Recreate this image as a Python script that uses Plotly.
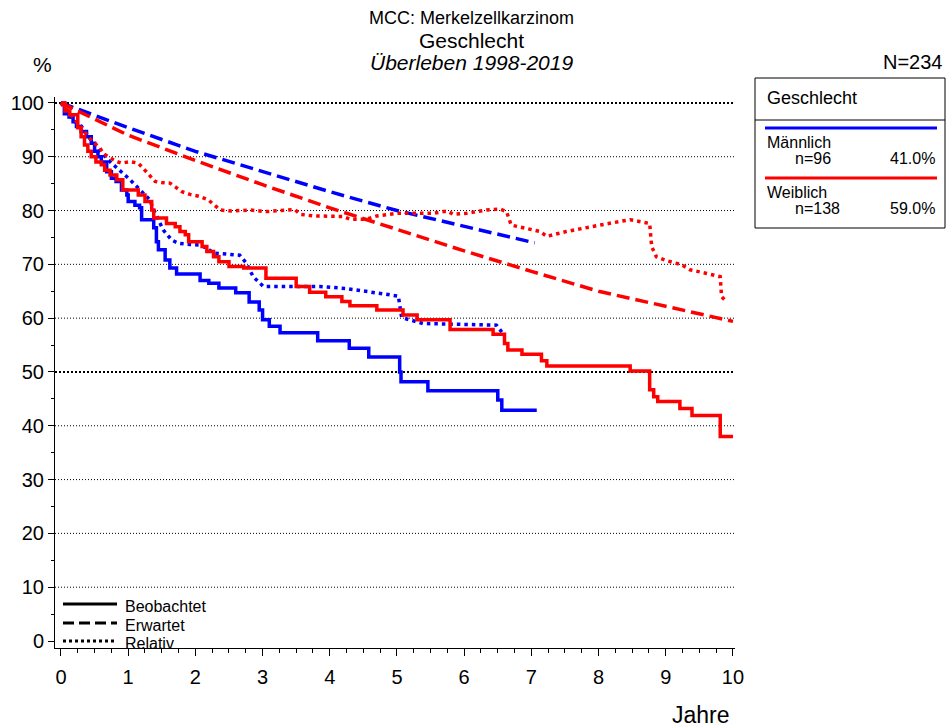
import plotly.graph_objects as go

# observed survival (Kaplan-Meier steps), years / percent
male_obs_t = [0, 0.05, 0.12, 0.18, 0.23, 0.3, 0.38, 0.45, 0.5, 0.55, 0.6, 0.68, 0.75, 0.82, 0.9, 0.98,
              1.0, 1.1, 1.17, 1.2, 1.38, 1.42, 1.45, 1.55, 1.62, 1.72, 2.07, 2.2, 2.35, 2.6, 2.8, 2.95,
              3.0, 3.1, 3.26, 3.82, 4.29, 4.58, 5.04, 5.06, 5.46, 6.5, 6.56, 7.08]
male_obs_s = [100, 98, 97.4, 96.5, 95.6, 94.7, 93.7, 92.5, 91, 90, 89, 87.2, 86, 85.4, 83.8, 82.9,
              81.7, 81, 80.5, 78.3, 76.8, 74.2, 72.7, 70.8, 69.3, 68.2, 67, 66.5, 65.6, 64.7, 63, 61.5,
              59.7, 58.5, 57.3, 55.8, 54.4, 52.8, 50, 48.2, 46.5, 44.8, 42.9, 42.9]

female_obs_t = [0, 0.06, 0.13, 0.25, 0.3, 0.35, 0.4, 0.45, 0.52, 0.6, 0.65, 0.73, 0.83, 0.92, 1.15, 1.25,
                1.35, 1.38, 1.57, 1.7, 1.77, 1.85, 1.9, 2.1, 2.17, 2.27, 2.35, 2.5, 2.72, 3.05, 3.5, 3.7,
                3.94, 4.18, 4.3, 4.7, 5.09, 5.3, 5.79, 6.43, 6.6, 6.65, 6.86, 7.15, 7.23, 8.47, 8.76,
                8.82, 8.88, 9.21, 9.39, 9.81, 10.0]
female_obs_s = [100, 98.5, 97.8, 95.4, 93.7, 92.2, 91, 90, 89, 88.5, 87.5, 86.6, 85.7, 83.8, 82.9, 81.7,
                80.1, 78.6, 77.6, 77, 76.1, 75.5, 74.2, 73.3, 72.4, 71.4, 70.5, 69.6, 69.3, 67.4, 65.9, 64.8,
                64, 63.1, 62.3, 61.5, 60.6, 59.7, 57.9, 57, 55.3, 54.1, 53.3, 52.1, 51.1, 50.2, 46.7,
                45.4, 44.5, 43.2, 41.9, 38, 38]

# expected survival
male_exp_t = [0, 1, 2, 3, 4, 5, 6, 7, 7.05]
male_exp_s = [100, 95.4, 91, 87.2, 83.5, 80, 77, 74.1, 74.0]
female_exp_t = [0, 1, 2, 3, 4, 5, 6, 7, 8, 9, 10]
female_exp_s = [100, 94, 89.3, 84.8, 80.5, 76.5, 72.5, 68.7, 65, 62.2, 59.4]

# relative survival
male_rel_t = [0, 0.18, 0.33, 0.43, 0.53, 0.63, 0.7, 0.78, 0.88, 0.95, 1.03, 1.1, 1.22, 1.32, 1.37, 1.45,
              1.52, 1.65, 1.75, 1.92, 2.07, 2.17, 2.27, 2.47, 2.66, 2.76, 2.86, 3.01, 3.85, 4.25, 4.6,
              5.02, 5.07, 5.39, 6.48, 6.56]
male_rel_s = [100, 96.8, 95.3, 93.4, 91.9, 90.3, 89.4, 88.5, 87.5, 86.6, 85.7, 84.8, 83.2, 82, 80.4, 78.3,
              76.4, 74.5, 73.9, 73.7, 73.6, 73, 72.1, 71.9, 71.7, 70.2, 67.7, 65.9, 65.9, 65.5, 64.9,
              64.1, 60.1, 59, 58.7, 57.4]
female_rel_t = [0, 0.08, 0.23, 0.33, 0.43, 0.53, 0.58, 0.63, 0.7, 0.83, 0.9, 1.03, 1.15, 1.22, 1.32, 1.4,
                1.5, 1.62, 1.7, 1.8, 1.92, 2.07, 2.19, 2.29, 2.37, 2.54, 2.81, 3.06, 3.31, 3.48, 3.56,
                3.75, 4.2, 4.3, 4.55, 4.7, 5.0, 5.54, 5.74, 5.84, 6.04, 6.33, 6.53, 6.63, 6.7, 6.93,
                7.13, 7.23, 7.52, 8.02, 8.47, 8.76, 8.79, 8.86, 9.01, 9.24, 9.36, 9.61, 9.81, 9.83, 9.9]
female_rel_s = [100, 99, 96.5, 95, 93.4, 92.2, 91.6, 90.6, 90, 89.1, 88.8, 89.1, 88.8, 87.9, 86.6, 85.4,
                85.2, 85.1, 84.4, 83.5, 83, 82.6, 82, 81, 80.1, 79.9, 80.1, 79.8, 80.1, 80.2, 79.3,
                79, 78.9, 78.4, 78.4, 79, 79.5, 79.5, 79.9, 79.3, 79.5, 80.1, 80.3, 79.8, 77.3, 76.7,
                76.1, 75.2, 76.1, 77.3, 78.3, 77.6, 73.3, 71.4, 70.7, 69.9, 69, 68.3, 67.7, 64, 63.1]

groups = ["Männlich", "Weiblich"]
counts = [96, 138]
shares = ["41.0%", "59.0%"]
colors = ["#0000ff", "#ff0000"]
y_ticks = list(range(0, 101, 10))
x_ticks = list(range(0, 11))

FONT = "Liberation Sans, Arial, sans-serif"
LW = 3.5
DASH = "13px,6px"
DOT = "3.5px,4px"

fig = go.Figure()
series = [
    (male_obs_t, male_obs_s, male_exp_t, male_exp_s, male_rel_t, male_rel_s),
    (female_obs_t, female_obs_s, female_exp_t, female_exp_s, female_rel_t, female_rel_s),
]
for (ot, os_, et, es, rt, rs), name, col in zip(series, groups, colors):
    fig.add_trace(go.Scatter(x=rt, y=rs, mode="lines", line=dict(color=col, width=LW, dash=DOT),
                             showlegend=False, name=name + " relativ"))
    fig.add_trace(go.Scatter(x=et, y=es, mode="lines", line=dict(color=col, width=LW, dash=DASH),
                             showlegend=False, name=name + " erwartet"))
    fig.add_trace(go.Scatter(x=ot, y=os_, mode="lines", line=dict(color=col, width=LW, shape="hv"),
                             showlegend=False, name=name))

# dotted horizontal grid, heavier at 50 and 100
for v in y_ticks[1:]:
    heavy = v in (50, 100)
    fig.add_shape(type="line", xref="paper", yref="y", x0=0, x1=1, y0=v, y1=v, layer="below",
                  line=dict(color="black", width=2 if heavy else 1, dash="2px,2px" if heavy else "1px,2px"))

# paper coordinates from pixel positions (plot area: x 55..735, y 97..648)
def px(x):
    return (x - 55) / 680

def py(y):
    return (648 - y) / 551

ann = []
def text(x, y, s, size, xanchor="left", italic=False):
    ann.append(dict(x=px(x), y=py(y), xref="paper", yref="paper", text=s, showarrow=False,
                    xanchor=xanchor, yanchor="middle",
                    font=dict(family=FONT, size=size, color="black",
                              style="italic" if italic else "normal")))

text(471, 18, "MCC: Merkelzellkarzinom", 18, "center")
text(471, 40, "Geschlecht", 21, "center")
text(471, 62, "Überleben 1998-2019", 21, "center", italic=True)
text(42, 65, "%", 21, "center")
text(945, 62, "N=234", 20, "right")
text(701, 715, "Jahre", 23, "center")

# group legend box on the right
fig.add_shape(type="rect", xref="paper", yref="paper", x0=px(755), x1=px(945), y0=py(78), y1=py(228),
              line=dict(color="black", width=1))
fig.add_shape(type="line", xref="paper", yref="paper", x0=px(755), x1=px(945), y0=py(120), y1=py(120),
              line=dict(color="black", width=1))
text(765, 98, "Geschlecht", 18)
for i, (name, n, share, col) in enumerate(zip(groups, counts, shares, colors)):
    base = 128 + i * 50
    fig.add_shape(type="line", xref="paper", yref="paper", x0=px(765), x1=px(937), y0=py(base), y1=py(base),
                  line=dict(color=col, width=3))
    text(765, base + 14, name, 16)
    text(793, base + 30, "n=%d" % n, 16)
    text(937, base + 30, share, 16, "right")

# line style legend, bottom left
for y, dash, label in [(604, "solid", "Beobachtet"), (623, "11px,5px", "Erwartet"), (641, "3px,3px", "Relativ")]:
    fig.add_shape(type="line", xref="paper", yref="paper", x0=px(63), x1=px(117), y0=py(y), y1=py(y),
                  line=dict(color="black", width=3, dash=dash))
    text(123, y + 2, label, 16)

fig.update_layout(
    width=948, height=728,
    margin=dict(l=55, r=213, t=97, b=80),
    paper_bgcolor="white", plot_bgcolor="white",
    font=dict(family=FONT, color="black"),
    annotations=ann,
    showlegend=False,
)
fig.update_xaxes(range=[-0.089, 10.03], tickvals=x_ticks, showgrid=False, zeroline=False,
                 showline=True, linecolor="black", linewidth=1,
                 ticks="outside", ticklen=7, tickcolor="black", tickfont=dict(size=20),
                 ticklabelstandoff=4,
                 minor=dict(dtick=0.25, ticks="outside", ticklen=4, tickcolor="black"))
fig.update_yaxes(range=[-1.3, 101.1], tickvals=y_ticks, showgrid=False, zeroline=False,
                 showline=True, linecolor="black", linewidth=1,
                 ticks="outside", ticklen=6, tickcolor="black", tickfont=dict(size=20),
                 minor=dict(dtick=5, ticks="outside", ticklen=3, tickcolor="black"))

fig.write_html("out.html", config={"displayModeBar": False},
               post_script="document.body.style.margin='0';")
